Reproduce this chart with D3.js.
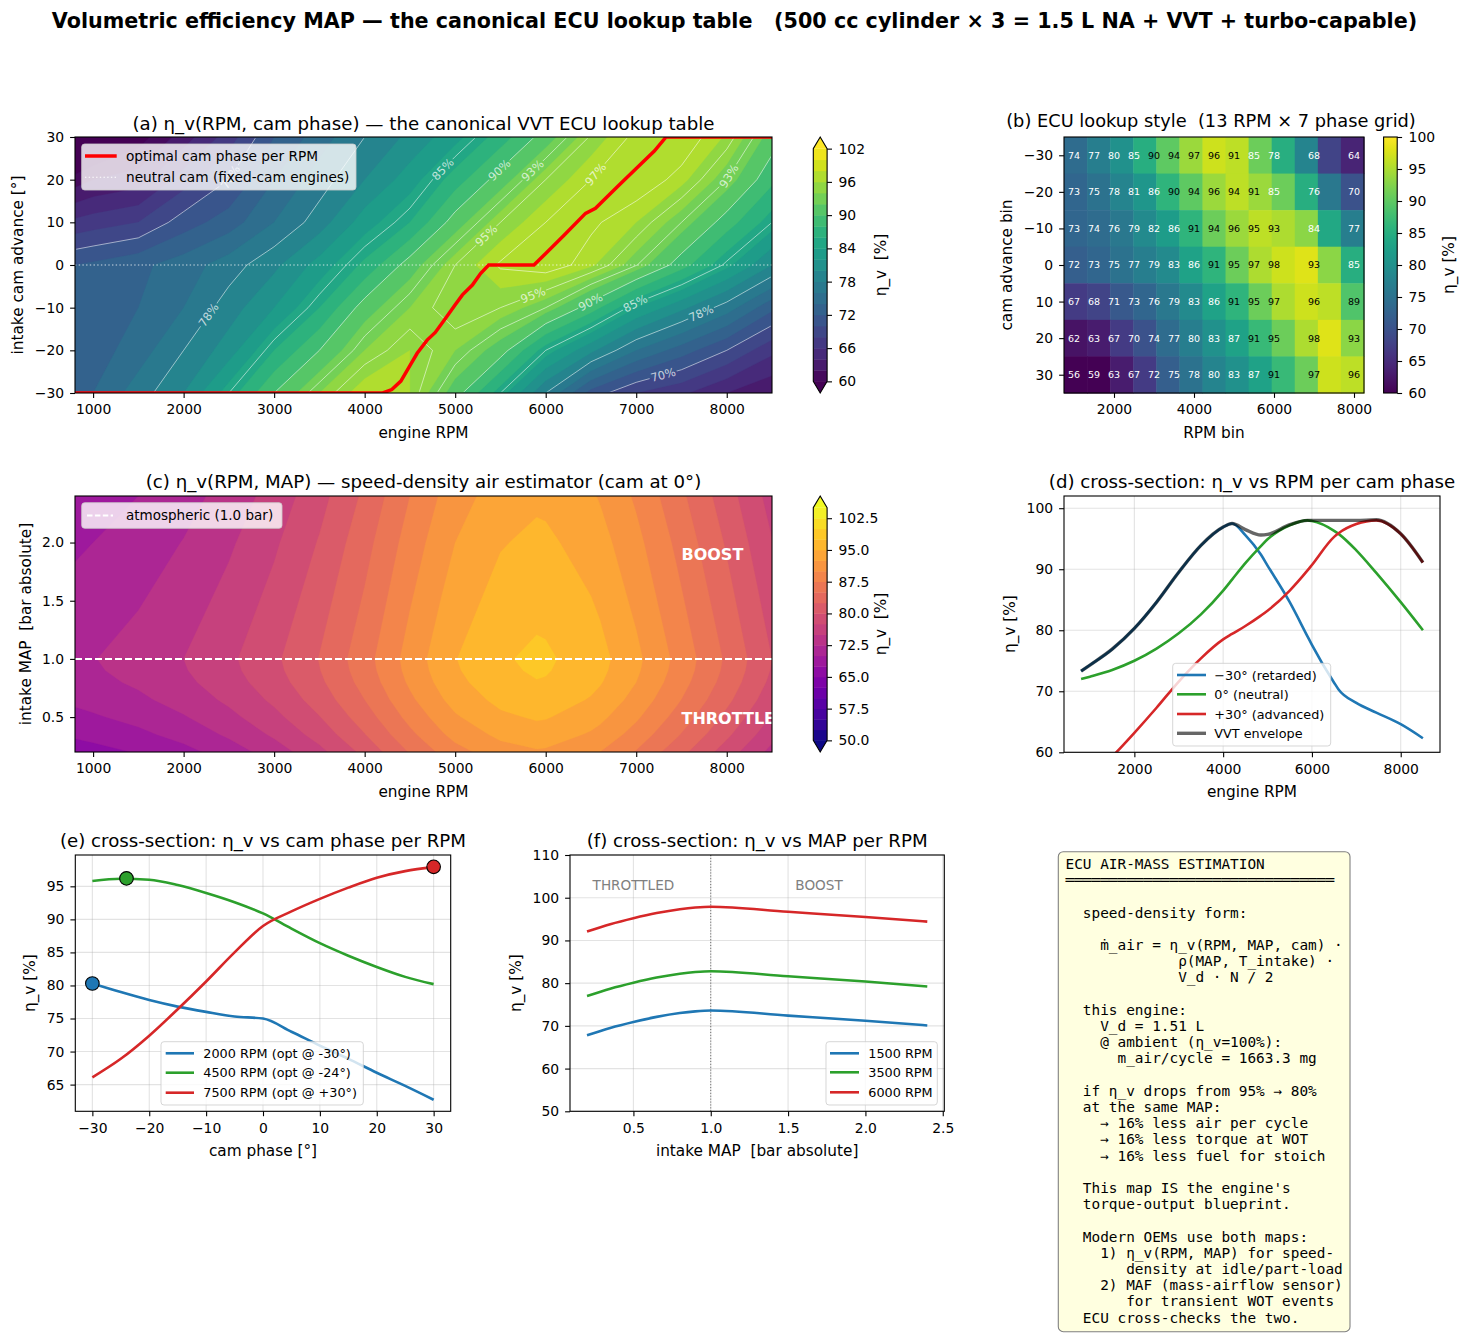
<!DOCTYPE html>
<html><head><meta charset="utf-8">
<script src="https://cdn.jsdelivr.net/npm/d3@7"></script>
<style>
html,body{margin:0;padding:0;background:#fff;}
svg text{white-space:pre;}
</style></head>
<body>
<svg id="fig" width="1468" height="1337" xmlns="http://www.w3.org/2000/svg"></svg>
<script>
// ================= DATA =================
// (b) ECU lookup table: 13 RPM bins x 7 cam bins
const rpmBins = [1000,1500,2000,2500,3000,3500,4000,4500,5000,5500,6000,7000,8000];
const camBins = [-30,-20,-10,0,10,20,30];
const lookupM30 = [74,77,80,85,90,94,97,96,91,85,78,68,64];
const lookupM20 = [73,75,78,81,86,90,94,96,94,91,85,76,70];
const lookupM10 = [73,74,76,79,82,86,91,94,96,95,93,84,77];
const lookup0   = [72,73,75,77,79,83,86,91,95,97,98,93,85];
const lookupP10 = [67,68,71,73,76,79,83,86,91,95,97,96,89];
const lookupP20 = [62,63,67,70,74,77,80,83,87,91,95,98,93];
const lookupP30 = [56,59,63,67,72,75,78,80,83,87,91,97,96];

// (a) eta_v(RPM, cam) field
const mapRpm = [800,1000,1500,2000,2500,3000,3500,4000,4500,5000,5500,6000,6500,7000,7500,8000,8500];
const mapCam = [-30,-20,-10,0,10,20,30];
const veM30 = [73.3,74,77,80,85,90,94,97,96,91,85,78,71.2,68,66.4,64,62.3];
const veM20 = [72.8,73,75,78,81,86,90,94,96,94,91,85,80.5,76,73,70,66.5];
const veM10 = [72.5,73,74,76,79,82,86,91,94,96,95,93,89,84,80.5,77,72.5];
const ve0   = [72,72.4,73.5,75,77,79.5,82.8,86.5,91,95,97.2,97.9,96.3,93.1,88.9,84.6,80];
const veP10 = [66.5,67,68,71,73,76,79,83,86,91,95,97,97.3,96,93,89,85];
const veP20 = [61,62,63,67,70,74,77,80,83,87,91,95,97,98,96.5,93,88.5];
const veP30 = [53,56,59,63,67,72,75,78,80.5,83.3,87,91,95.2,97.4,98,95.8,91.1];

// (a) optimal cam phase per RPM
const optRpm = [800,4200,4300,4400,4500,4580,4690,4780,4900,5000,5080,5190,5280,5370,5870,6000,6200,6440,6550,6800,7000,7200,7330,8500];
const optCam = [-30,-30,-29.2,-27.2,-23.6,-20.7,-17.6,-15.8,-12.3,-9.3,-7,-4.7,-2,0,0,2.7,6.9,12.1,13.3,18.5,22.6,26.7,30,30];

// (a) contour-line levels and label anchors
const lineLevels = [70,78,85,90,93,95,97];
const labelLevel = [78,70,85,90,93,97,93,95,95,90,85,78,70];
const labelRpm   = [2330,2510,4890,5500,5860,6510,7990,5360,5850,6480,6990,7700,7290];
const labelCam   = [-12.5,20.7,21.9,22,22,22,21.3,6.5,-6.5,-8,-9,-10.5,-25.2];

// (d) cross-sections vs RPM
const curveRpm   = [800,1000,1500,2000,2500,3000,3500,4000,4200,4500,4850,5000,5500,5900,6000,6500,6600,7000,7450,8000,8500];
const veRetarded = [73.3,74.3,76.9,80.3,84.6,89.5,93.9,96.9,97.5,95.6,92.4,90.6,84.6,79.0,77.6,71.4,70.3,68.1,66.5,64.6,62.3];
const veNeutral  = [72.0,72.4,73.5,75.0,77.0,79.5,82.6,86.5,88.3,91.0,93.8,94.9,97.2,98.0,97.9,96.3,95.8,93.1,89.4,84.6,80.0];
const veAdvanced = [53.0,55.8,59.3,63.2,67.3,71.6,75.4,78.5,79.4,80.7,82.4,83.2,86.5,89.8,90.7,95.3,95.9,97.4,98.0,95.8,91.1];
const veEnvelope = [73.3,74.3,76.9,80.3,84.6,89.5,93.9,96.9,97.5,96.5,95.6,95.7,97.3,98.0,98.0,98.0,98.0,98.0,98.1,95.8,91.1];

// (e) cross-sections vs cam phase
const camSweep = [-30,-25,-20,-15,-10,-5,0,5,10,15,20,25,30];
const ve2000 = [80.3,79.0,77.8,76.8,76.0,75.3,75.0,73.0,70.9,68.9,66.8,64.8,62.7];
const ve4500 = [95.8,96.15,96.0,95.2,94.0,92.6,90.9,88.6,86.4,84.5,82.8,81.3,80.2];
const ve7500 = [66.1,68.9,72.4,76.4,80.6,85.0,89.0,91.2,93.1,94.8,96.3,97.3,97.9];
const optMarkerCam = [-30,-24,30];
const optMarkerVe  = [80.3,96.2,97.95];

// (f) cross-sections vs MAP ; (c) MAP correction on the neutral-cam curve
const mapBar = [0.2,0.35,0.5,0.65,0.8,0.9,1.0,1.5,2.0,2.4];
const ve1500 = [67.8,69.5,70.9,72.1,73.0,73.4,73.6,72.4,71.2,70.1];
const ve3500 = [77.0,78.7,80.1,81.3,82.2,82.6,82.8,81.6,80.4,79.2];
const ve6000 = [92.1,93.8,95.2,96.4,97.3,97.7,97.9,96.7,95.5,94.4];
const mapPenalty = [-5.8,-4.1,-2.7,-1.5,-0.6,-0.2,0,-1.2,-2.4,-3.5];

const infoLines = [
"ECU AIR-MASS ESTIMATION",
"═══════════════════════════════",
"",
"  speed-density form:",
"",
"    ṁ_air = η_v(RPM, MAP, cam) ·",
"             ρ(MAP, T_intake) ·",
"             V_d · N / 2",
"",
"  this engine:",
"    V_d = 1.51 L",
"    @ ambient (η_v=100%):",
"      m_air/cycle = 1663.3 mg",
"",
"  if η_v drops from 95% → 80%",
"  at the same MAP:",
"    → 16% less air per cycle",
"    → 16% less torque at WOT",
"    → 16% less fuel for stoich",
"",
"  This map IS the engine's",
"  torque-output blueprint.",
"",
"  Modern OEMs use both maps:",
"    1) η_v(RPM, MAP) for speed-",
"       density at idle/part-load",
"    2) MAF (mass-airflow sensor)",
"       for transient WOT events",
"  ECU cross-checks the two."
];

// ================= HELPERS =================
const svg = d3.select("#fig");
svg.append("rect").attr("width",1468).attr("height",1337).attr("fill","#fff");
const defs = svg.append("defs");
const FONT = "'DejaVu Sans', sans-serif", MONO = "'DejaVu Sans Mono', monospace";
const minus = d => (d < 0 ? "\u2212" + Math.abs(d) : String(d));
const f1 = d => d.toFixed(1);
const C_BLUE = "#1f77b4", C_GREEN = "#2ca02c", C_RED = "#d62728";
const FS_TITLE = 18.2, FS_LABEL = 15.3, FS_TICK = 13.9, FS_LEG = 12.8;

function txt(g, x, y, s, o = {}) {
  const t = g.append("text").attr("x", x).attr("y", y).text(s)
    .attr("font-family", o.family || FONT).attr("font-size", o.size || FS_LABEL)
    .attr("fill", o.fill || "#000").attr("text-anchor", o.anchor || "start");
  if (o.weight) t.attr("font-weight", o.weight);
  if (o.rotate) t.attr("transform", `rotate(${o.rotate},${x},${y})`);
  if (o.opacity != null) t.attr("fill-opacity", o.opacity);
  return t;
}
function clipRect(id, x, y, w, h) {
  defs.append("clipPath").attr("id", id).append("rect").attr("x", x).attr("y", y).attr("width", w).attr("height", h);
  return `url(#${id})`;
}
function styleAxis(s) {
  s.select(".domain").remove();
  s.selectAll(".tick line").attr("stroke", "#000").attr("stroke-width", 1.1);
  s.selectAll(".tick text").attr("font-family", FONT).attr("font-size", FS_TICK).attr("fill", "#000");
  return s;
}
function axisB(g, sc, y, ticks, f) {
  return styleAxis(g.append("g").attr("transform", `translate(0,${y})`)
    .call(d3.axisBottom(sc).tickValues(ticks).tickSize(4.9).tickPadding(6.5).tickFormat(f || minus)));
}
function axisL(g, sc, x, ticks, f) {
  return styleAxis(g.append("g").attr("transform", `translate(${x},0)`)
    .call(d3.axisLeft(sc).tickValues(ticks).tickSize(4.9).tickPadding(6).tickFormat(f || minus)));
}
function axisR(g, sc, x, ticks, f) {
  return styleAxis(g.append("g").attr("transform", `translate(${x},0)`)
    .call(d3.axisRight(sc).tickValues(ticks).tickSize(4.9).tickPadding(6.5).tickFormat(f || minus)));
}
function frame(g, x0, y0, x1, y1) {
  g.append("rect").attr("x", x0).attr("y", y0).attr("width", x1 - x0).attr("height", y1 - y0)
    .attr("fill", "none").attr("stroke", "#000").attr("stroke-width", 1.1);
}
function gridLines(g, xs, ys, xt, yt, x0, y0, x1, y1) {
  xt.forEach(v => g.append("line").attr("x1", xs(v)).attr("x2", xs(v)).attr("y1", y0).attr("y2", y1)
    .attr("stroke", "#b0b0b0").attr("stroke-opacity", 0.35).attr("stroke-width", 1.1));
  yt.forEach(v => g.append("line").attr("x1", x0).attr("x2", x1).attr("y1", ys(v)).attr("y2", ys(v))
    .attr("stroke", "#b0b0b0").attr("stroke-opacity", 0.35).attr("stroke-width", 1.1));
}
function legendBox(g, x0, y0, x1, y1) {
  g.append("rect").attr("x", x0).attr("y", y0).attr("width", x1 - x0).attr("height", y1 - y0).attr("rx", 3)
    .attr("fill", "#fff").attr("fill-opacity", 0.8).attr("stroke", "#cccccc").attr("stroke-opacity", 0.8);
}
function legendItem(g, hx0, hx1, tx, y, label, st, fs) {
  const l = g.append("line").attr("x1", hx0).attr("x2", hx1).attr("y1", y).attr("y2", y)
    .attr("stroke", st.color).attr("stroke-width", st.width);
  if (st.dash) l.attr("stroke-dasharray", st.dash);
  if (st.opacity != null) l.attr("stroke-opacity", st.opacity);
  txt(g, tx, y + fs * 0.36, label, { size: fs });
}
// index (pixel-centre convention of d3.contours) -> data value along a non-uniform axis
function idxMap(arr) {
  return c => {
    const t = Math.max(0, Math.min(arr.length - 1, c - 0.5));
    const i = Math.min(arr.length - 2, Math.floor(t));
    return arr[i] + (t - i) * (arr[i + 1] - arr[i]);
  };
}
function geomPath(geom, fx, fy) {
  let d = "";
  for (const poly of geom.coordinates) for (const ring of poly)
    d += "M" + ring.map(p => fx(p[0]).toFixed(2) + "," + fy(p[1]).toFixed(2)).join("L") + "Z";
  return d;
}
function drawField(g, values, cols, rows, xs, ys, levels, colorOf, under, over, box) {
  const nx = cols.length, ny = rows.length;
  const cx = idxMap(cols), cy = idxMap(rows);
  const fx = c => xs(cx(c)), fy = c => ys(cy(c));
  const gg = g.append("g").attr("clip-path", clipRect(box.id, box.x0, box.y0, box.x1 - box.x0, box.y1 - box.y0));
  gg.append("rect").attr("x", box.x0).attr("y", box.y0).attr("width", box.x1 - box.x0).attr("height", box.y1 - box.y0).attr("fill", under);
  const cs = d3.contours().size([nx, ny]).thresholds(levels)(values);
  cs.forEach((c, k) => {
    const fill = k < levels.length - 1 ? colorOf(levels[k], levels[k + 1]) : over;
    gg.append("path").attr("d", geomPath(c, fx, fy)).attr("fill", fill).attr("fill-rule", "evenodd")
      .attr("stroke", fill).attr("stroke-width", 0.25);
  });
  return { fx, fy, nx, ny };
}
function colorbarBands(g, x0, y0, w, h, levels, colorOf, under, over, ticks, f) {
  const L = h / 1.1, e = 0.05 * L;
  const sc = d3.scaleLinear().domain([levels[0], levels[levels.length - 1]]).range([y0 + h - e, y0 + e]);
  for (let k = 0; k < levels.length - 1; k++)
    g.append("rect").attr("x", x0).attr("width", w).attr("y", sc(levels[k + 1]))
      .attr("height", sc(levels[k]) - sc(levels[k + 1]) + 0.4).attr("fill", colorOf(levels[k], levels[k + 1]));
  g.append("path").attr("d", `M${x0},${y0 + e}L${x0 + w / 2},${y0}L${x0 + w},${y0 + e}Z`).attr("fill", over);
  g.append("path").attr("d", `M${x0},${y0 + h - e}L${x0 + w / 2},${y0 + h}L${x0 + w},${y0 + h - e}Z`).attr("fill", under);
  g.append("path").attr("d", `M${x0},${y0 + e}L${x0 + w / 2},${y0}L${x0 + w},${y0 + e}L${x0 + w},${y0 + h - e}L${x0 + w / 2},${y0 + h}L${x0},${y0 + h - e}Z`)
    .attr("fill", "none").attr("stroke", "#000").attr("stroke-width", 1.1);
  axisR(g, sc, x0 + w, ticks, f);
}

// ================= SUPTITLE =================
txt(svg, 734.5, 27.5, "Volumetric efficiency MAP — the canonical ECU lookup table   (500 cc cylinder × 3 = 1.5 L NA + VVT + turbo-capable)",
  { size: 20.7, weight: "bold", anchor: "middle" });

// ================= (a) =================
{
  const g = svg.append("g");
  const X0 = 75, X1 = 772, Y0 = 137, Y1 = 393;
  const xs = d3.scaleLinear().domain([800, 8500]).range([X0, X1]);
  const ys = d3.scaleLinear().domain([-30, 30]).range([Y1, Y0]);
  const values = [veM30, veM20, veM10, ve0, veP10, veP20, veP30].flat();
  const levels = d3.range(60, 102.001, 2);
  const col = (a, b) => d3.interpolateViridis(((a + b) / 2 - 60) / 42);
  const fld = drawField(g, values, mapRpm, mapCam, xs, ys, levels, col, d3.interpolateViridis(0), d3.interpolateViridis(1),
    { id: "clipA", x0: X0, y0: Y0, x1: X1, y1: Y1 });

  // contour lines
  const cl = d3.contours().size([fld.nx, fld.ny]).thresholds(lineLevels)(values);
  const onEdge = p => p[0] <= X0 + 0.6 || p[0] >= X1 - 0.6 || p[1] <= Y0 + 0.6 || p[1] >= Y1 - 0.6;
  const rings = {};
  cl.forEach(c => { rings[c.value] = c.coordinates.flatMap(poly => poly.map(r => r.map(p => [fld.fx(p[0]), fld.fy(p[1])]))); });
  const mask = defs.append("mask").attr("id", "lblMask").attr("maskUnits", "userSpaceOnUse")
    .attr("x", 0).attr("y", 0).attr("width", 1468).attr("height", 1337);
  mask.append("rect").attr("width", 1468).attr("height", 1337).attr("fill", "#fff");
  const labels = [];
  labelLevel.forEach((lv, k) => {
    const tx = xs(labelRpm[k]), ty = ys(labelCam[k]);
    let best = null, bd = Infinity;
    (rings[lv] || []).forEach(r => {
      for (let i = 0; i < r.length - 1; i++) {
        const a = r[i], b = r[i + 1];
        if (onEdge(a) && onEdge(b)) continue;
        const dx = b[0] - a[0], dy = b[1] - a[1], L2 = dx * dx + dy * dy;
        if (L2 < 1e-6) continue;
        let t = ((tx - a[0]) * dx + (ty - a[1]) * dy) / L2; t = Math.max(0, Math.min(1, t));
        const px = a[0] + t * dx, py = a[1] + t * dy, d = (px - tx) ** 2 + (py - ty) ** 2;
        if (d < bd) { bd = d; let ang = Math.atan2(dy, dx) * 180 / Math.PI; if (ang > 90) ang -= 180; if (ang < -90) ang += 180; best = { x: px, y: py, ang }; }
      }
    });
    if (!best) best = { x: tx, y: ty, ang: -35 };
    labels.push({ ...best, lv });
    mask.append("rect").attr("x", -14).attr("y", -6).attr("width", 28).attr("height", 12).attr("fill", "#000")
      .attr("transform", `translate(${best.x},${best.y}) rotate(${best.ang})`);
  });
  const lg = g.append("g").attr("clip-path", clipRect("clipA2", X0 + 1.2, Y0 + 1.2, X1 - X0 - 2.4, Y1 - Y0 - 2.4))
    .append("g").attr("mask", "url(#lblMask)");
  cl.forEach(c => lg.append("path").attr("d", geomPath(c, fld.fx, fld.fy)).attr("fill", "none")
    .attr("stroke", "#fff").attr("stroke-opacity", 0.6).attr("stroke-width", 0.9));
  labels.forEach(l => g.append("text").attr("font-family", FONT).attr("font-size", 11.5).attr("fill", "#fff").attr("fill-opacity", 0.72)
    .attr("text-anchor", "middle").attr("dominant-baseline", "central")
    .attr("transform", `translate(${l.x},${l.y}) rotate(${l.ang})`).text(l.lv + "%"));

  const pg = g.append("g").attr("clip-path", "url(#clipA)");
  pg.append("line").attr("x1", X0).attr("x2", X1).attr("y1", ys(0)).attr("y2", ys(0))
    .attr("stroke", "#fff").attr("stroke-opacity", 0.75).attr("stroke-width", 1.1).attr("stroke-dasharray", "1.4,2.3");
  pg.append("path").datum(optRpm.map((r, i) => [r, optCam[i]]))
    .attr("d", d3.line().x(d => xs(d[0])).y(d => ys(d[1]))).attr("fill", "none").attr("stroke", "#ff0000").attr("stroke-width", 3.5);

  legendBox(g, 81.7, 144, 356, 190);
  legendItem(g, 85, 116.7, 126, 156, "optimal cam phase per RPM", { color: "#ff0000", width: 3.5 }, 13.7);
  legendItem(g, 85, 116.7, 126, 177.3, "neutral cam (fixed-cam engines)", { color: "#fff", width: 1.1, dash: "1.4,2.3" }, 13.7);

  frame(g, X0, Y0, X1, Y1);
  axisB(g, xs, Y1, [1000,2000,3000,4000,5000,6000,7000,8000]);
  axisL(g, ys, X0, [-30,-20,-10,0,10,20,30]);
  txt(g, (X0 + X1) / 2, 129.5, "(a) η_v(RPM, cam phase) — the canonical VVT ECU lookup table", { size: FS_TITLE, anchor: "middle" });
  txt(g, (X0 + X1) / 2, 437.5, "engine RPM", { anchor: "middle" });
  txt(g, 23, (Y0 + Y1) / 2, "intake cam advance [°]", { anchor: "middle", rotate: -90 });
  colorbarBands(g, 813.3, Y0, 13.8, Y1 - Y0, levels, col, d3.interpolateViridis(0), d3.interpolateViridis(1), d3.range(60, 102.1, 6));
  txt(g, 886, (Y0 + Y1) / 2, "η_v  [%]", { anchor: "middle", rotate: -90 });
}

// ================= (b) =================
{
  const g = svg.append("g");
  const X0 = 1064, X1 = 1364, Y0 = 137, Y1 = 393;
  const xs = d3.scaleLinear().domain([rpmBins[0] - 250, rpmBins[rpmBins.length - 1] + 250]).range([X0, X1]);
  const ys = d3.scaleLinear().domain([camBins[0] - 5, camBins[camBins.length - 1] + 5]).range([Y0, Y1]);
  const cellW = (xs.domain()[1] - xs.domain()[0]) / rpmBins.length;
  const cmap = d3.scaleSequential(d3.interpolateViridis).domain([60, 100]).clamp(true);
  const rows = [lookupM30, lookupM20, lookupM10, lookup0, lookupP10, lookupP20, lookupP30];
  rows.forEach((row, j) => row.forEach((v, i) => {
    const xa = xs(xs.domain()[0] + i * cellW), xb = xs(xs.domain()[0] + (i + 1) * cellW);
    g.append("rect").attr("x", xa).attr("y", ys(camBins[j] - 5)).attr("width", xb - xa + 0.5)
      .attr("height", ys(camBins[j] + 5) - ys(camBins[j] - 5) + 0.5).attr("fill", cmap(v));
  }));
  rows.forEach((row, j) => row.forEach((v, i) => {
    g.append("text").attr("x", xs(rpmBins[i])).attr("y", ys(camBins[j]) + 3.4).attr("text-anchor", "middle")
      .attr("font-family", FONT).attr("font-size", 9.5).attr("fill", v > 87.5 ? "#000" : "#fff").text(v);
  }));
  frame(g, X0, Y0, X1, Y1);
  axisB(g, xs, Y1, [2000,4000,6000,8000]);
  axisL(g, ys, X0, camBins);
  txt(g, (X0 + X1) / 2 - 3, 126.5, "(b) ECU lookup style  (13 RPM × 7 phase grid)", { size: 17.8, anchor: "middle" });
  txt(g, (X0 + X1) / 2, 437.5, "RPM bin", { anchor: "middle" });
  txt(g, 1012, (Y0 + Y1) / 2, "cam advance bin", { anchor: "middle", rotate: -90 });
  // continuous colorbar
  const grad = defs.append("linearGradient").attr("id", "virGrad").attr("x1", 0).attr("y1", 1).attr("x2", 0).attr("y2", 0);
  d3.range(0, 1.0001, 0.05).forEach(t => grad.append("stop").attr("offset", t).attr("stop-color", d3.interpolateViridis(t)));
  g.append("rect").attr("x", 1383.6).attr("y", Y0).attr("width", 13.6).attr("height", Y1 - Y0).attr("fill", "url(#virGrad)")
    .attr("stroke", "#000").attr("stroke-width", 1.1);
  const cs = d3.scaleLinear().domain([60, 100]).range([Y1, Y0]);
  axisR(g, cs, 1397.2, d3.range(60, 100.1, 5));
  txt(g, 1454, (Y0 + Y1) / 2, "η_v [%]", { anchor: "middle", rotate: -90 });
}

// ================= (c) =================
{
  const g = svg.append("g");
  const X0 = 75, X1 = 772, Y0 = 496, Y1 = 752;
  const xs = d3.scaleLinear().domain([800, 8500]).range([X0, X1]);
  const ys = d3.scaleLinear().domain([0.2, 2.4]).range([Y1, Y0]);
  const values = [];
  mapBar.forEach((m, j) => curveRpm.forEach((r, i) => values.push(veNeutral[i] + mapPenalty[j])));
  const levels = d3.range(50, 105.001, 2.5);
  const col = (a, b) => d3.interpolatePlasma(((a + b) / 2 - 50) / 55);
  drawField(g, values, curveRpm, mapBar, xs, ys, levels, col, d3.interpolatePlasma(0), d3.interpolatePlasma(1),
    { id: "clipC", x0: X0, y0: Y0, x1: X1, y1: Y1 });
  g.append("line").attr("x1", X0).attr("x2", X1).attr("y1", ys(1.0)).attr("y2", ys(1.0))
    .attr("stroke", "#fff").attr("stroke-width", 2).attr("stroke-dasharray", "7,3");
  txt(g, xs(7500), ys(1.9) + 5.5, "BOOST", { size: 16, weight: "bold", fill: "#fff" });
  txt(g, xs(7500), ys(0.5) + 6.5, "THROTTLE", { size: 16, weight: "bold", fill: "#fff" });
  legendBox(g, 81.7, 502.7, 282, 528.3);
  legendItem(g, 87, 113, 126, 515.5, "atmospheric (1.0 bar)", { color: "#fff", width: 2, dash: "5.5,2.4" }, 13.5);
  frame(g, X0, Y0, X1, Y1);
  axisB(g, xs, Y1, [1000,2000,3000,4000,5000,6000,7000,8000]);
  axisL(g, ys, X0, [0.5,1.0,1.5,2.0], f1);
  txt(g, (X0 + X1) / 2, 488, "(c) η_v(RPM, MAP) — speed-density air estimator (cam at 0°)", { size: FS_TITLE, anchor: "middle" });
  txt(g, (X0 + X1) / 2, 796.5, "engine RPM", { anchor: "middle" });
  txt(g, 31, (Y0 + Y1) / 2, "intake MAP  [bar absolute]", { anchor: "middle", rotate: -90 });
  colorbarBands(g, 813.3, Y0, 13.8, Y1 - Y0, levels, col, d3.interpolatePlasma(0), d3.interpolatePlasma(1), d3.range(50, 102.6, 7.5), f1);
  txt(g, 886, (Y0 + Y1) / 2, "η_v  [%]", { anchor: "middle", rotate: -90 });
}

// ================= (d) =================
{
  const g = svg.append("g");
  const X0 = 1064, X1 = 1440, Y0 = 496, Y1 = 752.3;
  const xs = d3.scaleLinear().domain([415, 8885]).range([X0, X1]);
  const ys = d3.scaleLinear().domain([60, 102]).range([Y1, Y0]);
  gridLines(g, xs, ys, [2000,4000,6000,8000], [60,70,80,90,100], X0, Y0, X1, Y1);
  const pg = g.append("g").attr("clip-path", clipRect("clipD", X0, Y0, X1 - X0, Y1 - Y0));
  const line = d3.line().x(d => xs(d[0])).y(d => ys(d[1])).curve(d3.curveMonotoneX);
  const series = [[veRetarded, C_BLUE], [veNeutral, C_GREEN], [veAdvanced, C_RED]];
  series.forEach(([vals, c]) => pg.append("path").datum(curveRpm.map((r, i) => [r, vals[i]])).attr("d", line)
    .attr("fill", "none").attr("stroke", c).attr("stroke-width", 2.6));
  pg.append("path").datum(curveRpm.map((r, i) => [r, veEnvelope[i]])).attr("d", line)
    .attr("fill", "none").attr("stroke", "#000").attr("stroke-opacity", 0.6).attr("stroke-width", 3.4);
  legendBox(g, 1172.7, 663.3, 1330.7, 746);
  legendItem(g, 1177, 1206, 1214.3, 675, "−30° (retarded)", { color: C_BLUE, width: 2.6 }, FS_LEG);
  legendItem(g, 1177, 1206, 1214.3, 694.3, "0° (neutral)", { color: C_GREEN, width: 2.6 }, FS_LEG);
  legendItem(g, 1177, 1206, 1214.3, 714, "+30° (advanced)", { color: C_RED, width: 2.6 }, FS_LEG);
  legendItem(g, 1177, 1206, 1214.3, 733.3, "VVT envelope", { color: "#000", width: 3.4, opacity: 0.6 }, FS_LEG);
  frame(g, X0, Y0, X1, Y1);
  axisB(g, xs, Y1, [2000,4000,6000,8000]);
  axisL(g, ys, X0, [60,70,80,90,100]);
  txt(g, (X0 + X1) / 2, 488, "(d) cross-section: η_v vs RPM per cam phase", { size: FS_TITLE, anchor: "middle" });
  txt(g, (X0 + X1) / 2, 796.5, "engine RPM", { anchor: "middle" });
  txt(g, 1015, (Y0 + Y1) / 2, "η_v [%]", { anchor: "middle", rotate: -90 });
}

// ================= (e) =================
{
  const g = svg.append("g");
  const X0 = 75.3, X1 = 450.7, Y0 = 855, Y1 = 1111.3;
  const xs = d3.scaleLinear().domain([-33, 33]).range([X0, X1]);
  const ys = d3.scaleLinear().domain([60.96, 99.74]).range([Y1, Y0]);
  gridLines(g, xs, ys, [-30,-20,-10,0,10,20,30], [65,70,75,80,85,90,95], X0, Y0, X1, Y1);
  const pg = g.append("g").attr("clip-path", clipRect("clipE", X0, Y0, X1 - X0, Y1 - Y0));
  const line = d3.line().x(d => xs(d[0])).y(d => ys(d[1])).curve(d3.curveMonotoneX);
  const series = [[ve2000, C_BLUE], [ve4500, C_GREEN], [ve7500, C_RED]];
  series.forEach(([vals, c]) => pg.append("path").datum(camSweep.map((p, i) => [p, vals[i]])).attr("d", line)
    .attr("fill", "none").attr("stroke", c).attr("stroke-width", 2.6));
  series.forEach(([vals, c], k) => g.append("circle").attr("cx", xs(optMarkerCam[k])).attr("cy", ys(optMarkerVe[k]))
    .attr("r", 6.8).attr("fill", c).attr("stroke", "#000").attr("stroke-width", 1.1));
  legendBox(g, 161, 1041.7, 363.3, 1105);
  legendItem(g, 165.7, 194, 203.3, 1053.3, "2000 RPM (opt @ -30°)", { color: C_BLUE, width: 2.6 }, FS_LEG);
  legendItem(g, 165.7, 194, 203.3, 1072.7, "4500 RPM (opt @ -24°)", { color: C_GREEN, width: 2.6 }, FS_LEG);
  legendItem(g, 165.7, 194, 203.3, 1092.7, "7500 RPM (opt @ +30°)", { color: C_RED, width: 2.6 }, FS_LEG);
  frame(g, X0, Y0, X1, Y1);
  axisB(g, xs, Y1, [-30,-20,-10,0,10,20,30]);
  axisL(g, ys, X0, [65,70,75,80,85,90,95]);
  txt(g, (X0 + X1) / 2, 847, "(e) cross-section: η_v vs cam phase per RPM", { size: FS_TITLE, anchor: "middle" });
  txt(g, (X0 + X1) / 2, 1155.8, "cam phase [°]", { anchor: "middle" });
  txt(g, 35, (Y0 + Y1) / 2, "η_v [%]", { anchor: "middle", rotate: -90 });
}

// ================= (f) =================
{
  const g = svg.append("g");
  const X0 = 570, X1 = 944.3, Y0 = 855, Y1 = 1111.3;
  const xs = d3.scaleLinear().domain([0.09, 2.51]).range([X0, X1]);
  const ys = d3.scaleLinear().domain([50, 110]).range([Y1, Y0]);
  gridLines(g, xs, ys, [0.5,1.0,1.5,2.0,2.5], [50,60,70,80,90,100,110], X0, Y0, X1, Y1);
  g.append("line").attr("x1", xs(1.0)).attr("x2", xs(1.0)).attr("y1", Y0).attr("y2", Y1)
    .attr("stroke", "#000").attr("stroke-opacity", 0.55).attr("stroke-width", 1).attr("stroke-dasharray", "1.1,1.8");
  const line = d3.line().x(d => xs(d[0])).y(d => ys(d[1])).curve(d3.curveMonotoneX);
  [[ve1500, C_BLUE], [ve3500, C_GREEN], [ve6000, C_RED]].forEach(([vals, c]) =>
    g.append("path").datum(mapBar.map((m, i) => [m, vals[i]])).attr("d", line)
      .attr("fill", "none").attr("stroke", c).attr("stroke-width", 2.6));
  txt(g, xs(0.5), ys(103) + 5, "THROTTLED", { size: 13.6, fill: "#808080", anchor: "middle" });
  txt(g, xs(1.7), ys(103) + 5, "BOOST", { size: 13.6, fill: "#808080", anchor: "middle" });
  legendBox(g, 826, 1041.7, 937.3, 1105);
  legendItem(g, 830, 859, 868.3, 1053.3, "1500 RPM", { color: C_BLUE, width: 2.6 }, FS_LEG);
  legendItem(g, 830, 859, 868.3, 1072.3, "3500 RPM", { color: C_GREEN, width: 2.6 }, FS_LEG);
  legendItem(g, 830, 859, 868.3, 1092.3, "6000 RPM", { color: C_RED, width: 2.6 }, FS_LEG);
  frame(g, X0, Y0, X1, Y1);
  axisB(g, xs, Y1, [0.5,1.0,1.5,2.0,2.5], f1);
  axisL(g, ys, X0, [50,60,70,80,90,100,110]);
  txt(g, (X0 + X1) / 2, 847, "(f) cross-section: η_v vs MAP per RPM", { size: FS_TITLE, anchor: "middle" });
  txt(g, (X0 + X1) / 2, 1155.8, "intake MAP  [bar absolute]", { anchor: "middle" });
  txt(g, 521, (Y0 + Y1) / 2, "η_v [%]", { anchor: "middle", rotate: -90 });
}

// ================= info box =================
{
  const g = svg.append("g");
  g.append("rect").attr("x", 1058.3).attr("y", 851.7).attr("width", 291.7).attr("height", 480).attr("rx", 5)
    .attr("fill", "#ffffe0").attr("stroke", "#808080").attr("stroke-width", 1.1);
  infoLines.forEach((s, i) => { if (s) txt(g, 1065.5, 869 + i * 16.2, s, { size: 14.4, family: MONO }); });
}
</script>
</body></html>
